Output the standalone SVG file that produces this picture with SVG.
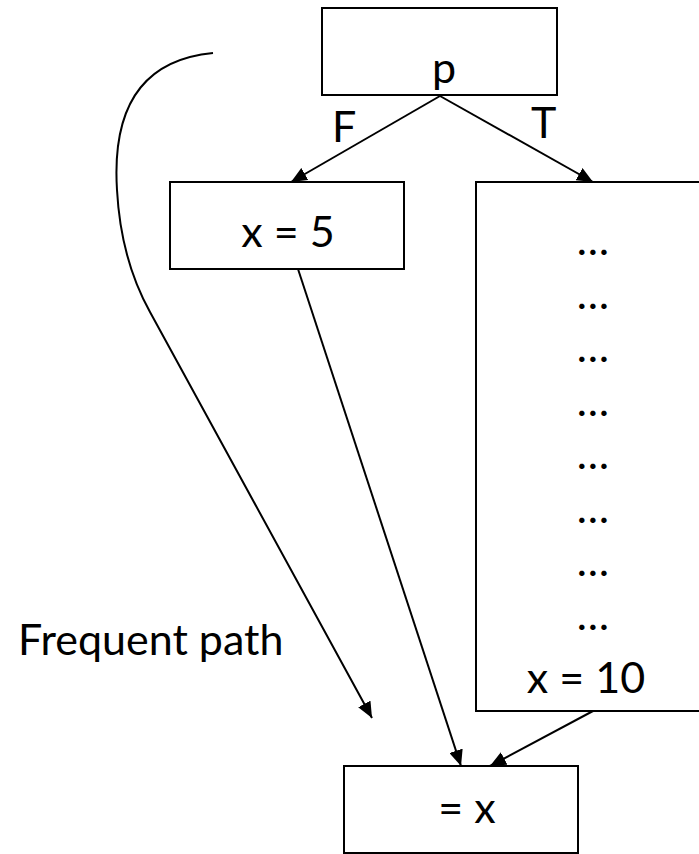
<svg xmlns="http://www.w3.org/2000/svg" width="699" height="854" viewBox="0 0 699 854">
<style>
.box{fill:#fff;stroke:#000;stroke-width:2}
.t{font-family:Lato,"Liberation Sans",sans-serif;font-size:43px;fill:#000}
.m{text-anchor:middle}
.e{fill:none;stroke:#000;stroke-width:2}
</style>
<defs>
<marker id="ah2" viewBox="0 0 10 10" refX="10" refY="5" markerWidth="16" markerHeight="14" markerUnits="userSpaceOnUse" orient="auto" preserveAspectRatio="none">
<path d="M0,0 L10,5 L0,10 z" fill="#000"/>
</marker>
</defs>
<rect width="699" height="854" fill="#fff"/>
<g id="node-p">
<rect class="box" x="322" y="8" width="235" height="87"/>
<text class="t m" x="444" y="83">p</text>
</g>
<g id="node-x5">
<rect class="box" x="170" y="182" width="234" height="87"/>
<text class="t m" x="288" y="247">x = 5</text>
</g>
<g id="node-right">
<rect class="box" x="476" y="182" width="230" height="529"/>
<g class="t m">
<text x="593" y="255">…</text>
<text x="593" y="309">…</text>
<text x="593" y="362">…</text>
<text x="593" y="416">…</text>
<text x="593" y="469">…</text>
<text x="593" y="523">…</text>
<text x="593" y="576">…</text>
<text x="593" y="630">…</text>
<text x="586" y="693">x = 10</text>
</g>
</g>
<g id="node-usex">
<rect class="box" x="344" y="766" width="234" height="87"/>
<text class="t m" x="467" y="823">= x</text>
</g>
<g id="label-frequent">
<text class="t" x="18" y="655">Frequent path</text>
</g>
<g id="connectors">
<path class="e" d="M440,96 L291,182" marker-end="url(#ah2)"/>
<path class="e" d="M440,96 L593,182" marker-end="url(#ah2)"/>
<path class="e" d="M298,269 L461,766" marker-end="url(#ah2)"/>
<path class="e" d="M593,711 L490,766" marker-end="url(#ah2)"/>
<path class="e" d="M213,53 C140,60 112,110 117,190 C120,245 135,285 150,312 L372,718" marker-end="url(#ah2)"/>
<text class="t" x="332" y="142">F</text>
<text class="t" x="531" y="138">T</text>
</g>
</svg>
